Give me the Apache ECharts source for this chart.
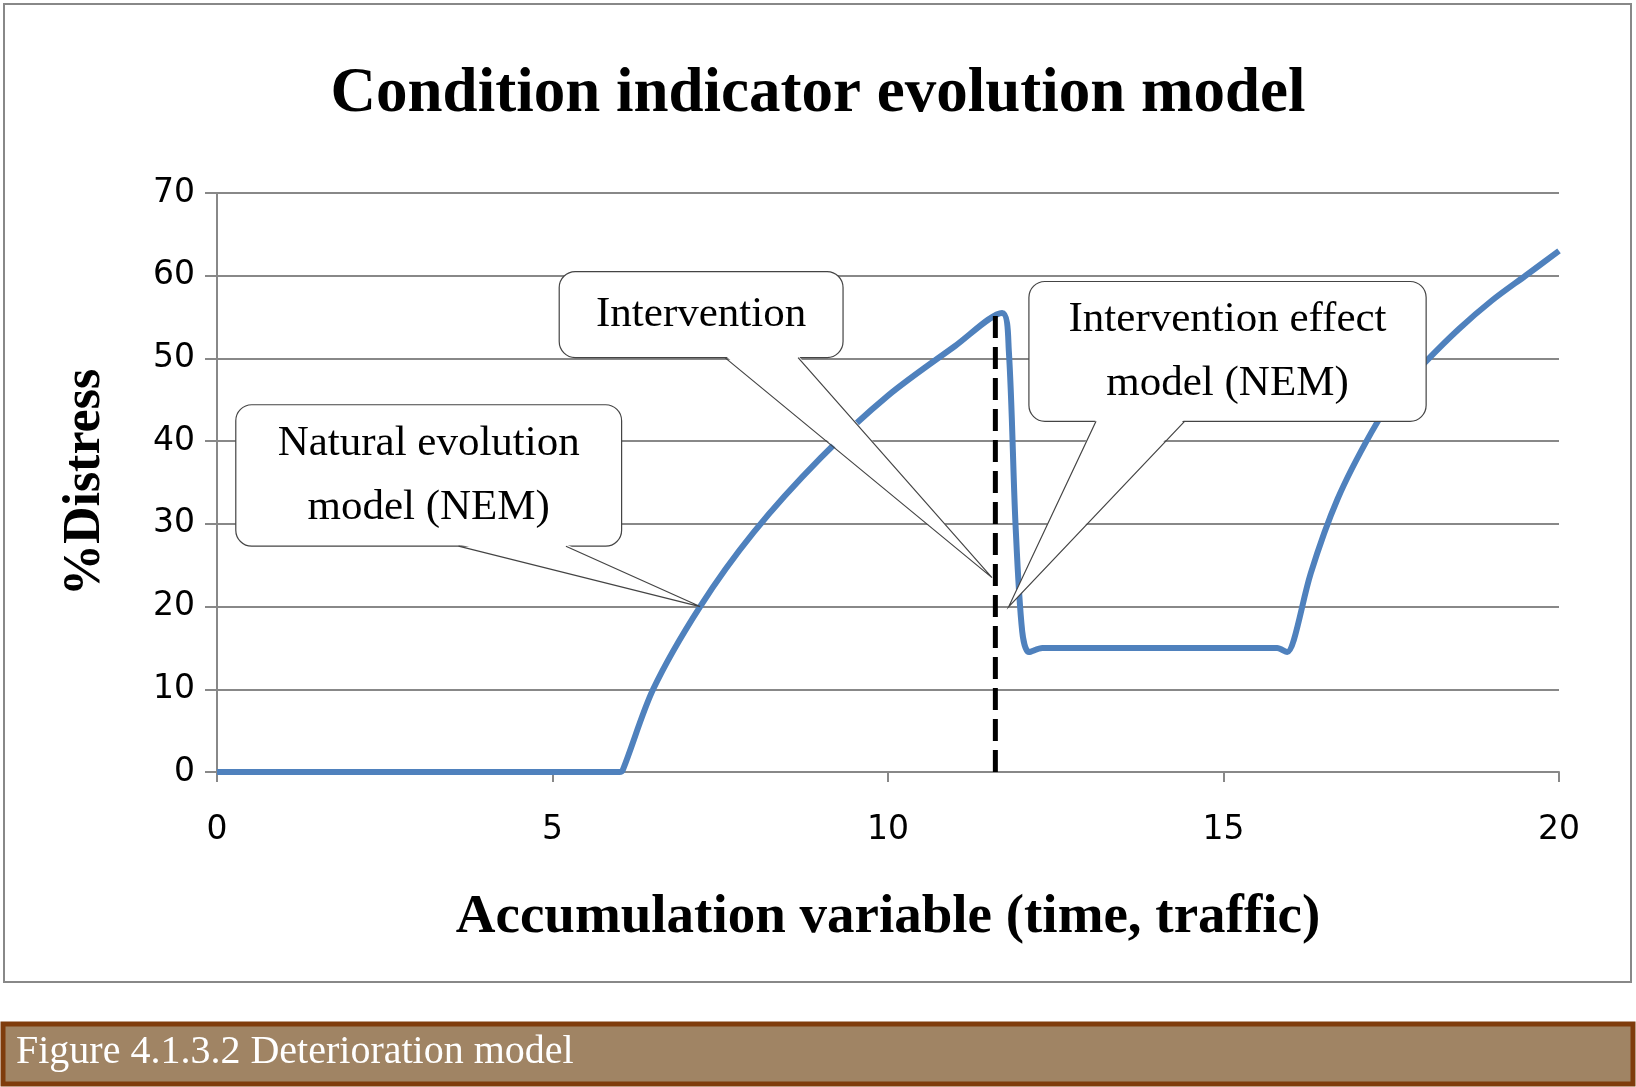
<!DOCTYPE html>
<html><head><meta charset="utf-8">
<script src="https://cdn.jsdelivr.net/npm/echarts@6/dist/echarts.min.js"></script>
<style>html,body{margin:0;padding:0;background:#fff}#c{width:1636px;height:1087px}</style>
</head><body><div id="c"></div>
<script>
var curveX = [0, 2, 4, 6.0, 6.05, 6.5, 7.2, 8, 9, 10, 11, 11.7, 11.8, 11.9, 12.0, 12.1, 12.3, 14, 15.8, 15.95, 16.05, 16.3, 16.7, 17.2, 17.6, 18, 18.5, 19, 19.5, 20];
var curveY = [0, 0, 0, 0, 0.3, 10, 20, 29, 38, 45.5, 51.5, 55.5, 51, 30, 17, 14.5, 15, 15, 15, 14.5, 16, 24, 33, 41, 46, 49.5, 53.5, 57, 60, 63];
var interventionX = 11.6;
var interventionTop = 56;
var notes = [
  {text: 'Natural evolution\nmodel (NEM)', box: [0.28, 44.4, 6.03, 27.3], base: [3.6, 5.2], tip: [7.2, 20]},
  {text: 'Intervention', box: [5.1, 60.5, 9.33, 50.1], base: [7.57, 8.66], tip: [11.55, 23.5]},
  {text: 'Intervention effect\nmodel (NEM)', box: [12.1, 59.3, 18.02, 42.4], base: [13.1, 14.42], tip: [11.8, 20]}
];

var chart = echarts.init(document.getElementById('c'));
var serif = '"Liberation Serif", "DejaVu Serif", serif';
var sans = '"DejaVu Sans", "Noto Sans", sans-serif';
chart.setOption({
  animation: false,
  title: {text: 'Condition indicator evolution model', left: 'center', top: 58,
    textStyle: {fontFamily: serif, fontSize: 63, fontWeight: 'bold', color: '#000'}},
  grid: {left: 217, right: 77, top: 193, bottom: 315},
  xAxis: {type: 'value', min: 0, max: 20, interval: 5,
    name: 'Accumulation variable (time, traffic)', nameLocation: 'middle', nameGap: 118,
    nameTextStyle: {fontFamily: serif, fontSize: 55, fontWeight: 'bold', color: '#000'},
    axisLine: {lineStyle: {color: '#888', width: 2}}, axisTick: {show: true, length: 10, lineStyle: {color: '#888', width: 2}},
    axisLabel: {fontFamily: sans, fontSize: 33, color: '#000', margin: 42},
    splitLine: {show: false}},
  yAxis: {type: 'value', min: 0, max: 70, interval: 10,
    name: '%Distress', nameLocation: 'middle', nameGap: 105,
    nameTextStyle: {fontFamily: serif, fontSize: 52, fontWeight: 'bold', color: '#000'},
    axisLine: {show: true, lineStyle: {color: '#888', width: 2}}, axisTick: {show: true, length: 12, lineStyle: {color: '#888', width: 2}},
    axisLabel: {fontFamily: sans, fontSize: 33, color: '#000', margin: 22},
    splitLine: {lineStyle: {color: '#888', width: 2}}},
  series: [
    {type: 'line', data: curveX.map(function (x, i) { return [x, curveY[i]]; }), smooth: 0.3, showSymbol: false,
      lineStyle: {color: '#4f81bd', width: 6}, z: 3},
    {type: 'line', data: [[interventionX, 0], [interventionX, interventionTop]], showSymbol: false,
      lineStyle: {color: '#000', width: 5, type: [22, 9]}, z: 4}
  ]
});

var g = [
  {type: 'rect', shape: {x: 4, y: 4, width: 1627, height: 978}, style: {fill: 'none', stroke: '#888', lineWidth: 2}, z: -1},
  {type: 'rect', shape: {x: 3, y: 1024, width: 1630, height: 60}, style: {fill: '#a08464', stroke: '#7f3c0c', lineWidth: 5}},
  {type: 'text', left: 16, top: 1032, style: {text: 'Figure 4.1.3.2 Deterioration model', fill: '#fff', stroke: null, lineWidth: 0, font: '40px ' + serif}}
];
notes.forEach(function (n) {
  var p1 = chart.convertToPixel({gridIndex: 0}, [n.box[0], n.box[1]]);
  var p2 = chart.convertToPixel({gridIndex: 0}, [n.box[2], n.box[3]]);
  var b1 = chart.convertToPixel({gridIndex: 0}, [n.base[0], n.box[3]]);
  var b2 = chart.convertToPixel({gridIndex: 0}, [n.base[1], n.box[3]]);
  var tp = chart.convertToPixel({gridIndex: 0}, n.tip);
  g.push({type: 'rect', shape: {x: p1[0], y: p1[1], width: p2[0] - p1[0], height: p2[1] - p1[1], r: 16},
    style: {fill: '#fff', stroke: '#444', lineWidth: 1.2}, z: 10});
  g.push({type: 'polygon', shape: {points: [[b1[0], b1[1] - 2], [tp[0], tp[1]], [b2[0], b2[1] - 2]]},
    style: {fill: '#fff', stroke: null}, z: 11});
  g.push({type: 'polyline', shape: {points: [b1, tp, b2]}, style: {stroke: '#444', lineWidth: 1.2, fill: null}, z: 12});
  g.push({type: 'text', x: (p1[0] + p2[0]) / 2, y: (p1[1] + p2[1]) / 2,
    style: {text: n.text, fill: '#000', stroke: null, font: '43px ' + serif, align: 'center', verticalAlign: 'middle', lineHeight: 64}, z: 13});
});
chart.setOption({graphic: g});
</script></body></html>
